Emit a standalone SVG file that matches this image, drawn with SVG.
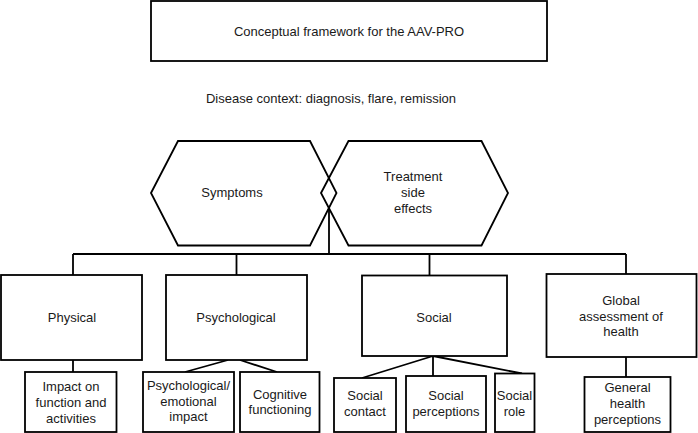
<svg xmlns="http://www.w3.org/2000/svg" width="698" height="433" viewBox="0 0 698 433">
<style>
.b{fill:#fff;stroke:#000;stroke-width:1.8}
.h{fill:none;stroke:#000;stroke-width:1.8;stroke-linejoin:miter}
.c{fill:none;stroke:#000;stroke-width:1.8}
text{font-family:"Liberation Sans",Arial,sans-serif;font-size:13px;fill:#1a1a1a;text-anchor:middle}
</style>
<rect width="698" height="433" fill="#fff"/>
<g id="connectors">
<path class="c" d="M329,207 V254 M73,254 H626 M73,254 V275 M236.5,254 V275 M429.5,254 V275 M626,254 V274"/>
<path class="c" d="M73,360 V372 M228,360 L185,372 M240,360 L277,372"/>
<path class="c" d="M433,356 L362,378 M433,356 V376 M433,356 L522,373.5"/>
<path class="c" d="M626,357 V377"/>
</g>
<g id="title"><rect class="b" x="151" y="1" width="396" height="60"/><text x="349" y="36">Conceptual framework for the AAV-PRO</text></g>
<g id="context"><text x="331" y="103">Disease context: diagnosis, flare, remission</text></g>
<g id="symptoms"><polygon class="h" points="151,193 178,141 310,141 336.5,193 310,245.5 178,245.5"/><text x="232" y="197">Symptoms</text></g>
<g id="treatment"><polygon class="h" points="321,193 348.5,141 481.5,141 508,193 481.5,245.5 348.5,245.5"/><text x="413" y="181">Treatment</text><text x="413" y="197">side</text><text x="413" y="213">effects</text></g>
<g id="physical"><rect class="b" x="1" y="275" width="141" height="85"/><text x="72" y="321.5">Physical</text></g>
<g id="psychological"><rect class="b" x="166" y="275" width="141" height="85"/><text x="236" y="321.5">Psychological</text></g>
<g id="social"><rect class="b" x="362" y="275.5" width="145" height="80.5"/><text x="434" y="322">Social</text></g>
<g id="global"><rect class="b" x="546.5" y="274" width="150" height="83"/><text x="621" y="304.5">Global</text><text x="621" y="320.5">assessment of</text><text x="621" y="336">health</text></g>
<g id="impact"><rect class="b" x="25" y="372" width="91.5" height="60"/><text x="71" y="391">Impact on</text><text x="71" y="407">function and</text><text x="71" y="423">activities</text></g>
<g id="psychemotional"><rect class="b" x="143" y="372" width="91" height="60"/><text x="188.5" y="389.5">Psychological/</text><text x="188.5" y="405.5">emotional</text><text x="188.5" y="421">impact</text></g>
<g id="cognitive"><rect class="b" x="240" y="372" width="79.5" height="60"/><text x="280" y="399">Cognitive</text><text x="280" y="414">functioning</text></g>
<g id="socialcontact"><rect class="b" x="334" y="378" width="62" height="54"/><text x="365" y="399.5">Social</text><text x="365" y="415.5">contact</text></g>
<g id="socialperceptions"><rect class="b" x="406" y="376" width="80" height="56"/><text x="446" y="399.5">Social</text><text x="446" y="415.5">perceptions</text></g>
<g id="socialrole"><rect class="b" x="495" y="373.5" width="39.5" height="58.5"/><text x="514.5" y="399.5">Social</text><text x="514.5" y="415.5">role</text></g>
<g id="generalhealth"><rect class="b" x="584.5" y="377" width="86" height="55"/><text x="627.5" y="392">General</text><text x="627.5" y="408">health</text><text x="627.5" y="424">perceptions</text></g>
</svg>
